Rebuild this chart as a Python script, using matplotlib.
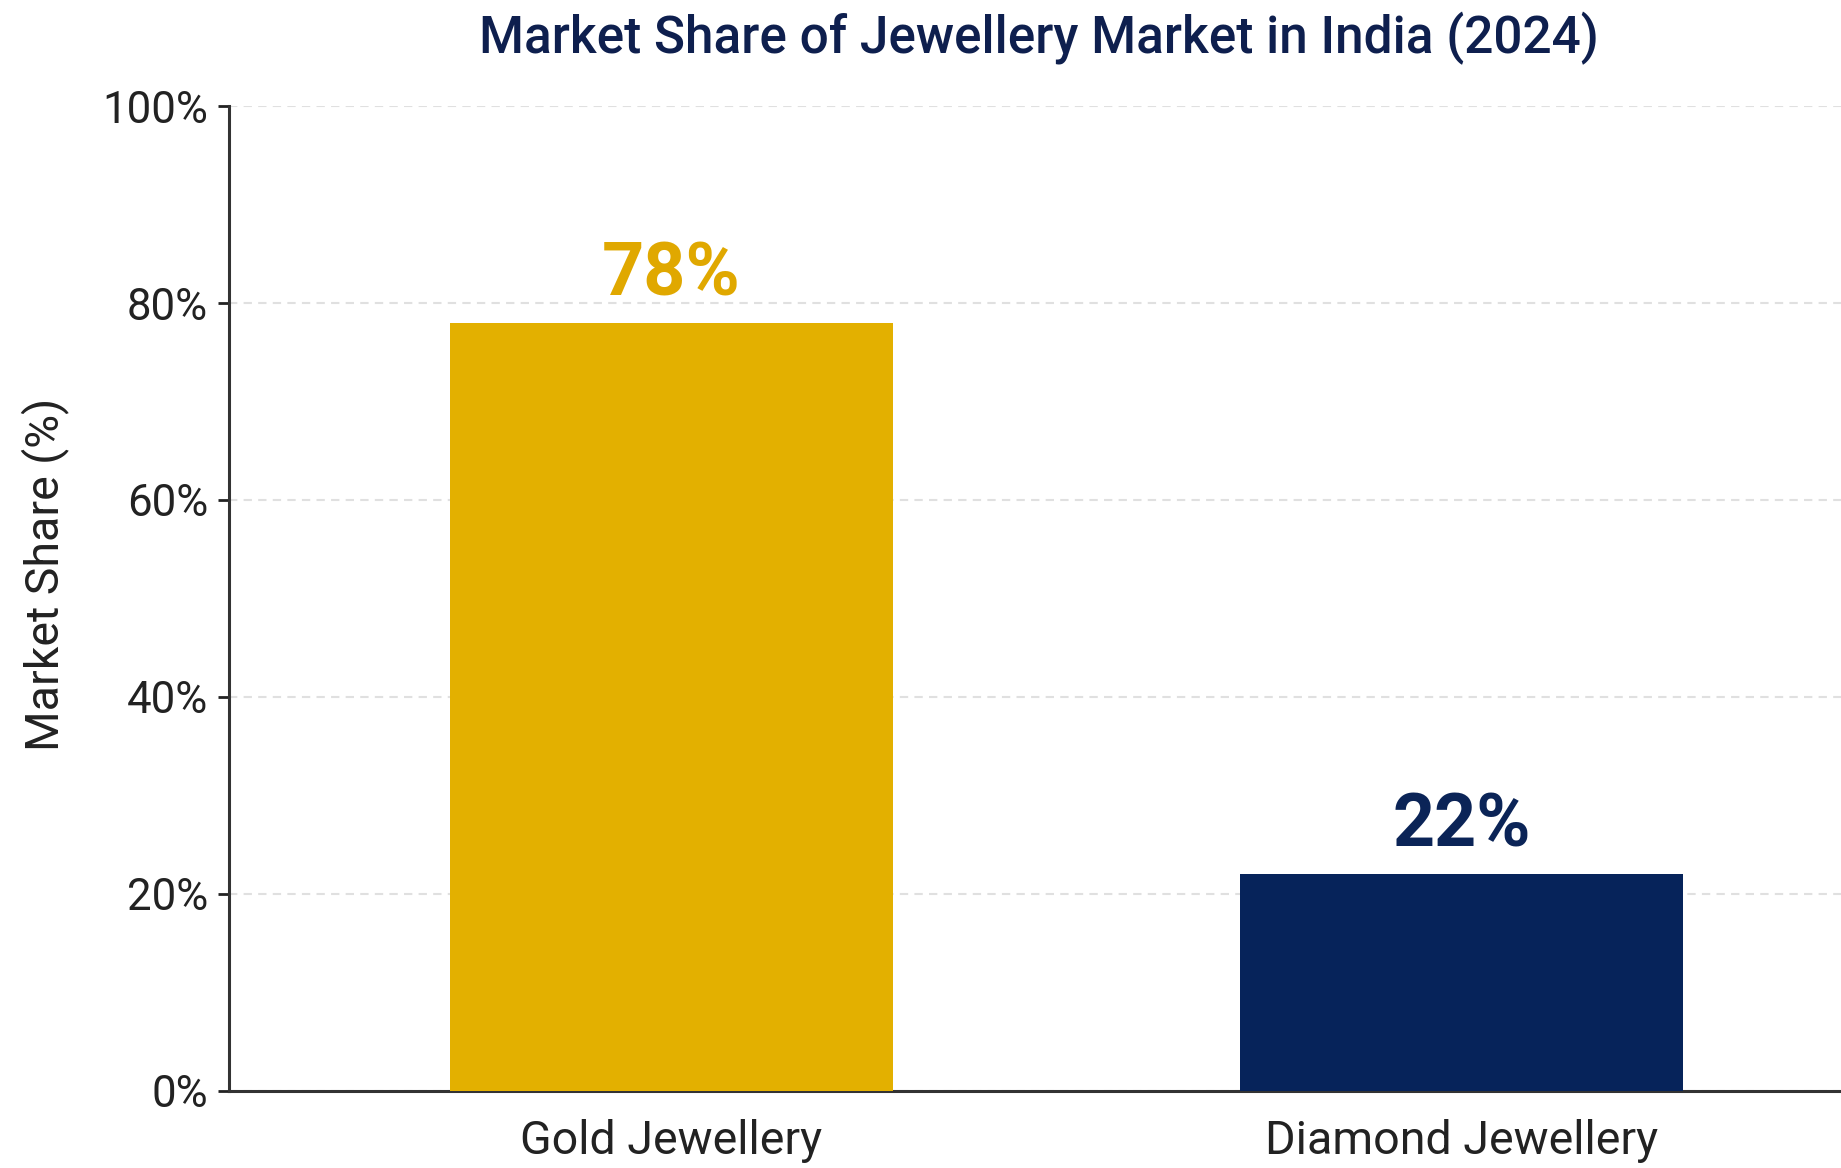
import matplotlib.pyplot as plt
from matplotlib.ticker import FuncFormatter

# Market share of jewellery segments, India 2024
categories = ['Gold Jewellery', 'Diamond Jewellery']
shares = [78, 22]
bar_colors = ['#E3B000', '#06235A']
label_colors = ['#E0A800', '#0B2457']

plt.rcParams['font.family'] = ['Roboto', 'DejaVu Sans']

fig = plt.figure(figsize=(18.41, 11.68), dpi=100)
ax = fig.add_axes([0.1244, 0.066, 0.8756, 0.8432])

x = range(len(categories))
bars = ax.bar(x, shares, width=0.56, color=bar_colors, zorder=3)

# value labels above each bar
for rect, val, col in zip(bars, shares, label_colors):
    ax.annotate(f'{val}%', (rect.get_x() + rect.get_width() / 2, rect.get_height()),
                xytext=(0, 9), textcoords='offset points', ha='center', va='bottom',
                fontsize=53, fontweight='bold', color=col)

ax.set_xlim(-0.56, 1.48)
ax.set_ylim(0, 100)
ax.set_yticks([0, 20, 40, 60, 80, 100])
ax.yaxis.set_major_formatter(FuncFormatter(lambda v, p: f'{v:.0f}%'))
ax.set_xticks(list(x))
ax.set_xticklabels(categories)

ax.tick_params(axis='y', labelsize=31.5, length=8, width=2, colors='#222222', pad=7)
ax.tick_params(axis='x', labelsize=33.5, length=0, colors='#222222', pad=20)
ax.set_ylabel('Market Share (%)', fontsize=33.5, color='#222222')
ax.yaxis.set_label_coords(-0.099, 0.524)

ax.grid(axis='y', linestyle=(0, (4, 3)), color='#e0e0e0', linewidth=1.5, zorder=0)
for side in ['top', 'right']:
    ax.spines[side].set_visible(False)
for side in ['left', 'bottom']:
    ax.spines[side].set_linewidth(2.2)
    ax.spines[side].set_color('#333333')

fig.suptitle('Market Share of Jewellery Market in India (2024)', x=0.5645, y=0.99,
             va='top', fontsize=37, fontweight='medium', color='#0E1F4E')

fig.savefig('out.png', dpi=100)
